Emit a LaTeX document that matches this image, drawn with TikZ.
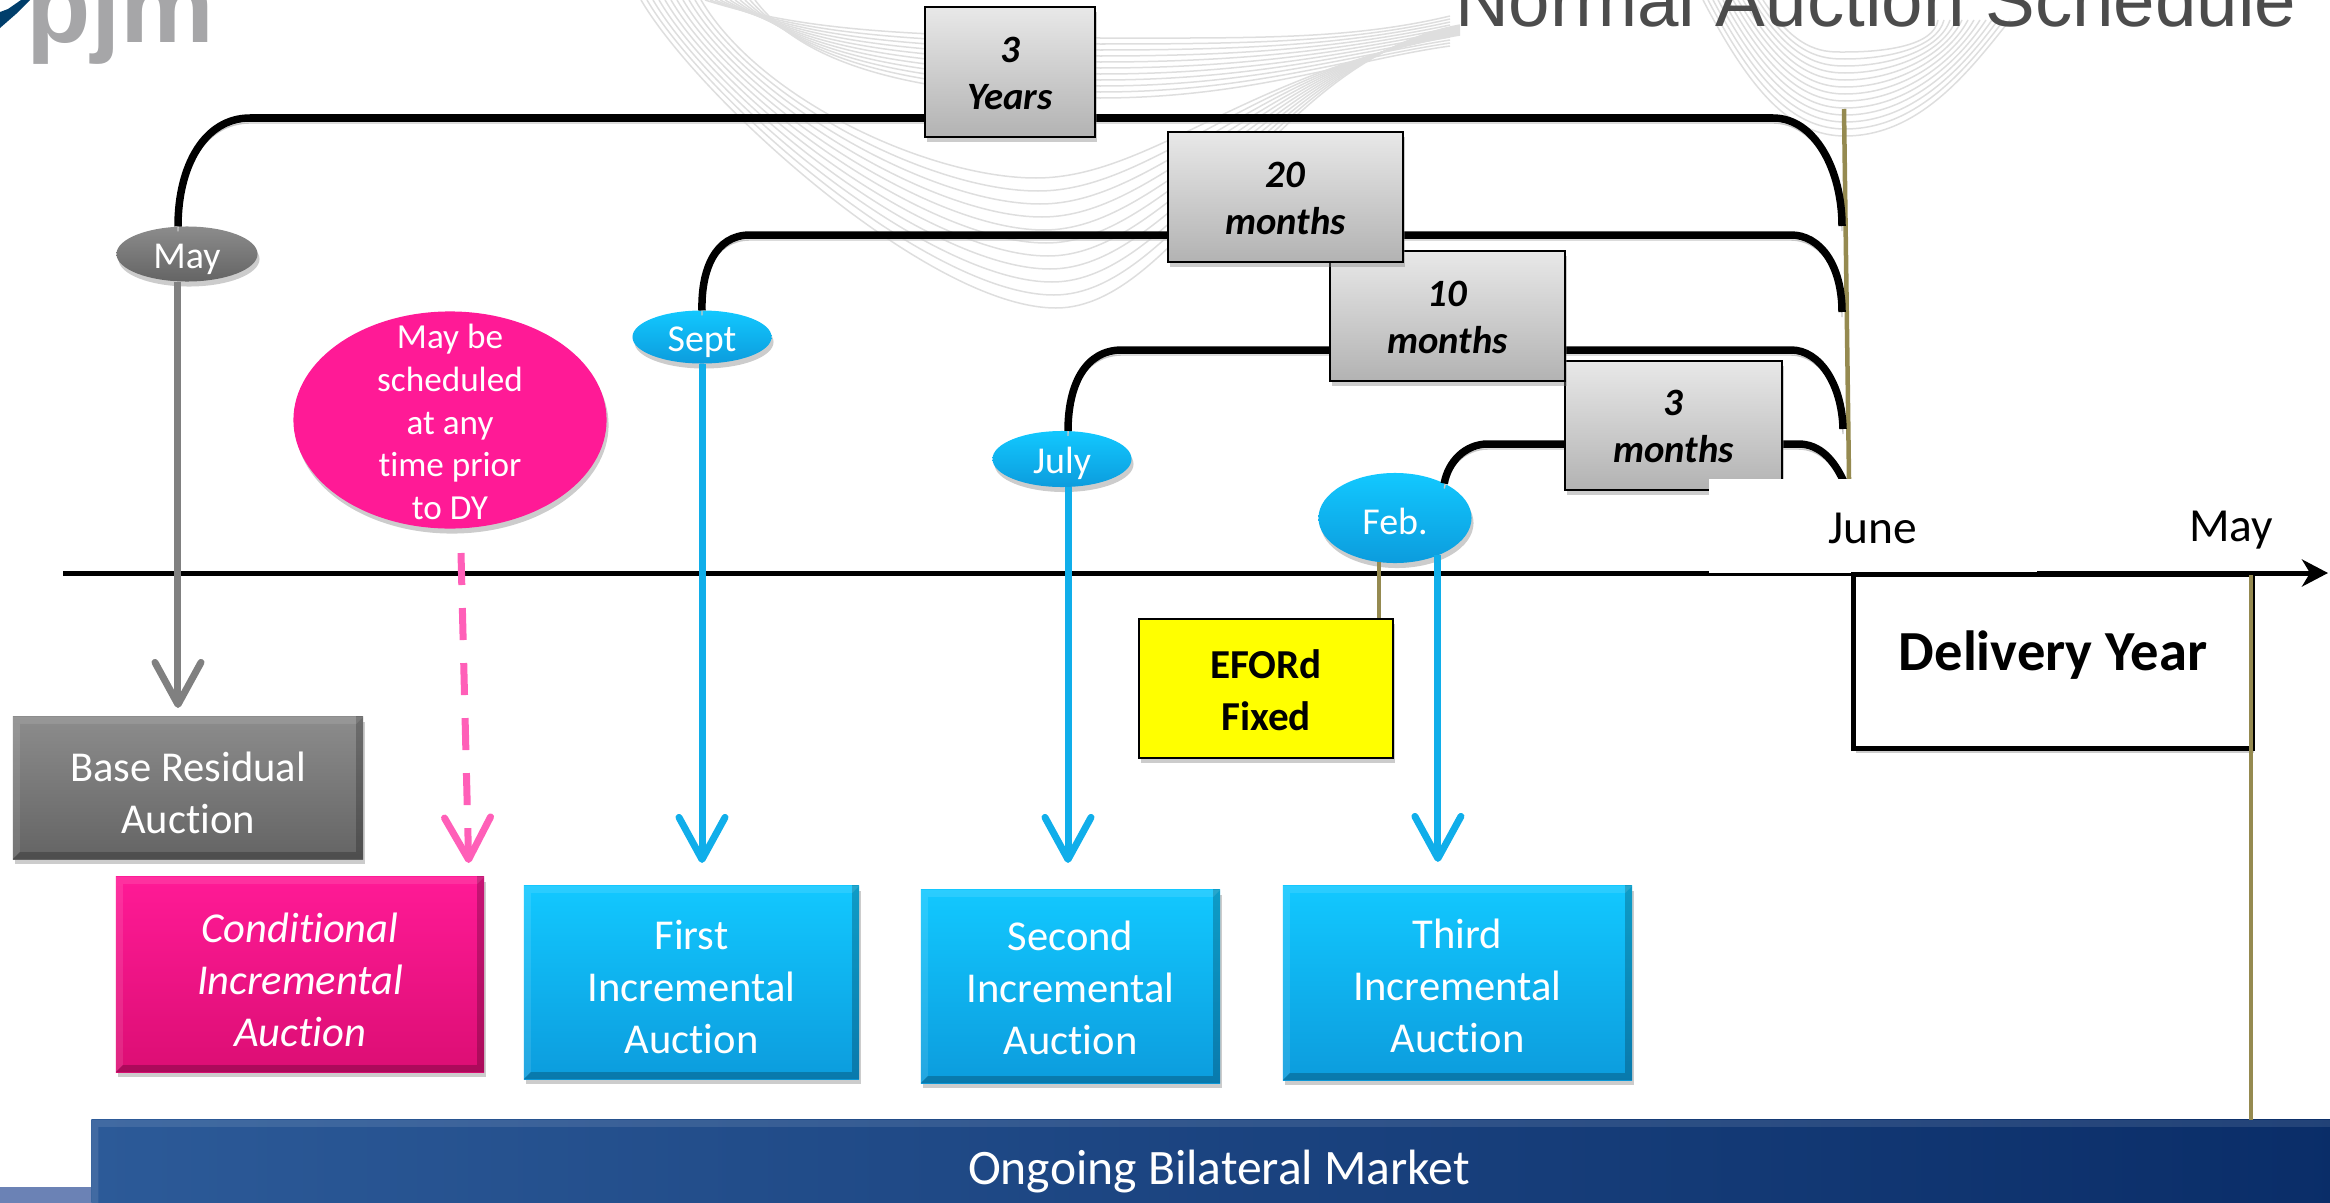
\documentclass[tikz,border=0pt]{standalone}
\usepackage{fontspec}
\setmainfont[Ligatures=NoCommon]{Carlito}
\newfontfamily\arialfont{Liberation Sans}
\usetikzlibrary{
    arrows.meta,
    shapes.geometric,
    shadows,
    calc
}
\definecolor{aucblue}{HTML}{12C8FF}
\definecolor{aucbluedk}{HTML}{0C9CDD}
\definecolor{aucline}{HTML}{10AEEA}
\definecolor{aucpink}{HTML}{FF1A96}
\definecolor{aucpinkdk}{HTML}{DC0E74}
\definecolor{dashpink}{HTML}{FF5FB8}
\definecolor{aucgray}{HTML}{8C8C8C}
\definecolor{aucgraydk}{HTML}{646464}
\definecolor{lineolive}{HTML}{958A50}
\definecolor{barleft}{HTML}{2C5A98}
\definecolor{barright}{HTML}{0A2D68}
\definecolor{barstub}{HTML}{6B82B5}
\definecolor{wavegray}{HTML}{DEDEDE}
\definecolor{logoblue}{HTML}{003E6B}
\definecolor{logogray}{HTML}{A6A6A8}
\definecolor{markyellow}{HTML}{FFFF00}
\newcommand{\auctext}{\fontsize{12.1}{14.8}\selectfont}
\newcommand{\durtext}{\fontsize{11}{13.4}\selectfont\bfseries\itshape}
\tikzset{
    softshadow/.style={drop shadow={opacity=.4,shadow xshift=.02cm,shadow yshift=-.05cm}},
    bevel/.style={path picture={
        \fill[black,opacity=.22] (path picture bounding box.south west) -- ++(7,-7) -| ([shift={(-7,-7)}]path picture bounding box.north east) -- (path picture bounding box.north east) |- cycle;
        \fill[white,opacity=.1] (path picture bounding box.south west) -- ++(7,-7) |- ([shift={(-7,7)}]path picture bounding box.north east) -- (path picture bounding box.north east) -| cycle;
    }},
    aucbox/.style={rectangle,minimum width=#1,inner sep=0,outer sep=0,align=center,text=white,font=\auctext,bevel,softshadow},
    durbox/.style={rectangle,draw=black,line width=.02cm,top color=black!9,bottom color=black!30,align=center,inner sep=0,outer sep=0,text height=21.3pt,font=\durtext,softshadow},
    month/.style={ellipse,inner sep=0,outer sep=0,text=white,text height=8pt,text depth=0pt,font=\fontsize{10.8}{13}\selectfont,softshadow},
    bracketline/.style={line width=.075cm,preaction={draw=black!22,transform canvas={yshift=-.05cm}}},
    olive/.style={draw=lineolive,line width=.045cm},
    aucarrow/.style={line width=.07cm,-{Straight Barb[length=.42cm,width=.46cm,round]}},
    wave/.style={draw=wavegray,line width=.015cm}
}

\begin{document}
\begin{tikzpicture}[x=0.01cm,y=-0.01cm]
    \useasboundingbox (0,0) rectangle (2330,1203);

    % background lines
    \foreach \i in {0,...,10} {
        \draw[wave] ({641+6*\i},0) .. controls ({700+6*\i},100) and (930,{308-13*\i}) .. ({1056-2*\i},{308-13*\i})
            .. controls ({1180-3*\i},{308-13*\i}) and ({1270-2*\i},{60+\i}) .. (1460,{25+\i});
        \draw[wave] ({705+5*\i},0) .. controls (800,{30+3*\i}) and (900,{36+6*\i}) .. (1100,{38+6*\i})
            .. controls (1250,{38+6*\i}) and (1350,{40+2*\i}) .. (1450,{16+3*\i});
    }
    \foreach \i in {0,...,12} {
        \draw[wave] ({1703+5*\i},0) .. controls ({1750+4*\i},{90-3*\i}) and ({1790+3*\i},{136-7*\i}) .. (1845,{136-7*\i})
            .. controls ({1920-3*\i},{136-7*\i}) and ({1970-3*\i},{70-2*\i}) .. ({2010-6*\i},20);
    }

    % logo and title
    \fill[logoblue] (0,28) -- (16,14) -- (30,0) -- (21,0) -- (8,9) -- (0,12) -- cycle;
    \node[anchor=base west,inner sep=0,text=logogray,font=\arialfont\bfseries\fontsize{30}{36}\selectfont] (logo) at (26,42) {pjm};
    \node[anchor=base east,inner sep=0,text=black!70,font=\arialfont\fontsize{21.2}{26}\selectfont] (title) at (2297,27) {Normal Auction Schedule};

    % month markers
    \node[month,top color=aucgray,bottom color=aucgraydk,minimum width=1.41cm,minimum height=.55cm] (may) at (187,254) {May};
    \node[month,top color=aucblue,bottom color=aucbluedk,minimum width=1.39cm,minimum height=.53cm] (sept) at (702,337) {Sept};
    \node[month,top color=aucblue,bottom color=aucbluedk,minimum width=1.39cm,minimum height=.56cm] (july) at (1062,459) {July};
    \node[month,top color=aucblue,bottom color=aucbluedk,minimum width=1.53cm,minimum height=.9cm,text height=9.4pt] (feb) at (1395,518) {Feb.};
    \node[month,fill=aucpink,minimum width=3.13cm,minimum height=2.17cm] (anytime) at (450,420) {};
    \node[inner sep=0,align=center,text=white,font=\fontsize{10}{12.2}\selectfont] (anytimetext) at (450,422) {May be\\scheduled\\at any\\time prior\\to DY};

    % delivery year limits
    \coordinate (limtop) at (1844,109);
    \coordinate (limbot) at (1849,479);
    \coordinate (end3y) at (1842,226);
    \coordinate (end20) at (1842,312);
    \coordinate (end10) at (1843,429);
    \coordinate (end3m) at (1844,482);
    \draw[olive] (limtop) -- (limbot);

    \draw[bracketline] ([xshift=-.09cm]may.north) .. controls (178,165) and (205,118) .. (250,118) -- (1773,118) .. controls (1815,118) and (1842,170) .. (end3y);
    \draw[bracketline] (sept.north) .. controls (701,270) and (715,235) .. (750,235) -- (1791,235) .. controls (1820,235) and (1842,265) .. (end20);
    \draw[bracketline] ([xshift=.06cm]july.north) .. controls (1068,385) and (1085,350) .. (1122,350) -- (1791,350) .. controls (1820,350) and (1842,385) .. (end10);
    \draw[bracketline] (feb.35) .. controls (1448,462) and (1465,444) .. (1488,444) -- (1798,444) .. controls (1820,444) and (1834,460) .. (end3m);

    % duration boxes
    \node[durbox,minimum width=2.17cm,minimum height=1.29cm] (dur3m) at (1673.5,425.5) {3\\months};
    \node[durbox,minimum width=2.35cm,minimum height=1.3cm] (dur10) at (1447.5,316) {10\\months};
    \node[durbox,minimum width=2.35cm,minimum height=1.3cm] (dur20) at (1285.5,197) {20\\months};
    \node[durbox,minimum width=1.7cm,minimum height=1.3cm] (dur3y) at (1010,72) {3\\Years};

    % time line
    \coordinate (axstart) at (63,573);
    \coordinate (axend) at (2328,573);
    \draw[line width=.05cm,-{Stealth[length=.26cm,width=.27cm,inset=.08cm]}] (axstart) -- (axend);
    \node[minimum width=3.28cm,minimum height=.94cm,inner sep=0,fill=white,text height=9.8pt,text depth=0pt,font=\fontsize{13.5}{16}\selectfont] (june) at (1873,526) {June};
    \node[inner sep=0,text height=8.6pt,text depth=0pt,font=\fontsize{13.5}{16}\selectfont] (maylabel) at (2231,526.5) {May};

    % delivery year
    \node[rectangle,draw=black,line width=.05cm,fill=white,minimum width=3.98cm,minimum height=1.73cm,inner sep=0,font=\fontsize{16.1}{19}\bfseries\selectfont,softshadow] (dy) at (2053,661.5) {\raisebox{.22cm}{Delivery Year}};

    % auction boxes
    \node[aucbox=3.5cm,minimum height=1.42cm,text height=25.8pt,top color=aucgray,bottom color=aucgraydk] (bra) at (188,788) {Base Residual\\Auction};
    \node[aucbox=3.68cm,minimum height=1.95cm,text height=41.1pt,top color=aucpink,bottom color=aucpinkdk,font=\auctext\itshape] (cia) at (300,974.5) {Conditional\\Incremental\\Auction};
    \node[aucbox=3.35cm,minimum height=1.93cm,text height=40.7pt,top color=aucblue,bottom color=aucbluedk] (first) at (691.5,982.5) {First\\Incremental\\Auction};
    \node[aucbox=2.99cm,minimum height=1.93cm,text height=38.9pt,top color=aucblue,bottom color=aucbluedk] (second) at (1070.5,986.5) {Second\\Incremental\\Auction};
    \node[aucbox=3.49cm,minimum height=1.94cm,text height=39.8pt,top color=aucblue,bottom color=aucbluedk] (third) at (1457.5,983) {Third\\Incremental\\Auction};
    \node[rectangle,draw=black,line width=.02cm,fill=markyellow,minimum width=2.54cm,minimum height=1.39cm,inner sep=0,align=center,text height=23.75pt,font=\fontsize{11.7}{14.6}\bfseries\selectfont,softshadow] (eford) at (1266,688.5) {EFORd\\Fixed};

    % bilateral bar
    \fill[barstub] (0,1187) rectangle (100,1203);
    \node[aucbox=22.54cm,minimum height=1cm,left color=barleft,right color=barright,text depth=1.7pt,font=\fontsize{14.1}{17}\selectfont] (bilateral) at (1219,1170) {Ongoing Bilateral Market};

    \coordinate (dyend) at (2251,575);
    \draw[olive] (dyend) -- (dyend |- bilateral.north);

    % auction arrows
    \coordinate (febdrop) at (feb.-41);
    \coordinate (dashstart) at (461,553);
    \draw[aucarrow,draw=black!50,shorten >=.09cm] ([xshift=-.09cm]may.south) -- ([xshift=-.09cm]may.south |- bra.north);
    \draw[aucarrow,draw=aucline,shorten >=.23cm] (sept.south) -- (sept.south |- first.north);
    \draw[aucarrow,draw=aucline,shorten >=.27cm] ([xshift=.06cm]july.south) -- ([xshift=.06cm]july.south |- second.north);
    \draw[aucarrow,draw=aucline,shorten >=.24cm] (febdrop) -- (febdrop |- third.north);
    \draw[aucarrow,draw=dashpink,dash pattern=on .32cm off .23cm,shorten >=.14cm] (dashstart) -- (469,877);
    \draw[olive] (feb.-110) -- (feb.-110 |- eford.north);
\end{tikzpicture}
\end{document}
